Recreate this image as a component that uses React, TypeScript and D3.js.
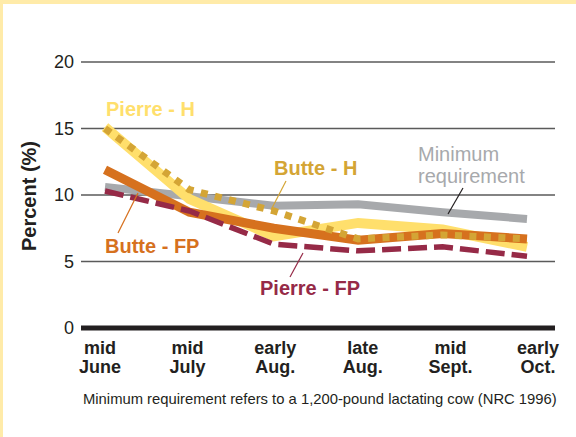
import React from 'react';
import * as d3 from 'd3';

// Crude protein by sampling date, Pierre / Butte hay (H) and forage plots (FP)
const periodTop = ['mid', 'mid', 'early', 'late', 'mid', 'early'];
const periodBottom = ['June', 'July', 'Aug.', 'Aug.', 'Sept.', 'Oct.'];
const yTicks = [0, 5, 10, 15, 20];

const minimumReq = [10.6, 9.9, 9.2, 9.3, 8.7, 8.2];
const pierreH = [15.1, 9.7, 6.9, 7.9, 7.4, 6.1];
const butteFP = [11.9, 8.7, 7.5, 6.6, 7.1, 6.7];
const butteH = [15.0, 10.4, 8.8, 6.7, 7.0, 6.7];
const pierreFP = [10.3, 8.8, 6.3, 5.8, 6.1, 5.4];

const W = 576;
const H = 437;
const FONT = '"Liberation Sans", Arial, Helvetica, sans-serif';

export default function App() {
  const x = d3.scalePoint<number>().domain(d3.range(periodTop.length)).range([105, 527]);
  const xLabel = d3.scalePoint<number>().domain(d3.range(periodTop.length)).range([100, 538]);
  const y = d3.scaleLinear().domain([0, 20]).range([328, 62]);

  const line = d3
    .line<number>()
    .x((_, i) => x(i) as number)
    .y((d) => y(d));

  const series = [
    { key: 'min', values: minimumReq, color: '#A7A9AC', width: 8, dash: null },
    { key: 'pierreH', values: pierreH, color: '#FFDF6C', width: 10, dash: null },
    { key: 'butteFP', values: butteFP, color: '#D6711E', width: 9, dash: null },
    { key: 'butteH', values: butteH, color: '#D4A535', width: 7, dash: '7,7.5' },
    { key: 'pierreFP', values: pierreFP, color: '#962A47', width: 5.5, dash: '19,7' },
  ];

  return (
    <svg
      width={W}
      height={H}
      style={{ position: 'absolute', left: 0, top: 0, fontFamily: FONT }}
    >
      <rect x={0} y={0} width={W} height={H} fill="#FFEBA9" />
      <rect x={3} y={4} width={W - 3} height={H - 4} fill="#fff" />

      {/* grid */}
      {yTicks.map((t) => (
        <g key={t}>
          <line
            x1={81}
            x2={555}
            y1={y(t)}
            y2={y(t)}
            stroke={t === 0 ? '#231F20' : '#5a5a5a'}
            strokeWidth={t === 0 ? 5 : 1.5}
          />
          <text x={74} y={y(t)} dy="0.36em" textAnchor="end" fontSize={18} fill="#231F20">
            {t}
          </text>
        </g>
      ))}

      <text
        transform={`translate(36,196) rotate(-90)`}
        textAnchor="middle"
        fontSize={20}
        fontWeight="bold"
        fill="#231F20"
      >
        Percent (%)
      </text>

      {/* x labels */}
      {periodTop.map((p, i) => (
        <text
          key={i}
          x={xLabel(i)}
          textAnchor="middle"
          fontSize={18}
          fontWeight="bold"
          fill="#231F20"
        >
          <tspan x={xLabel(i)} y={354}>{p}</tspan>
          <tspan x={xLabel(i)} y={373}>{periodBottom[i]}</tspan>
        </text>
      ))}

      {/* series */}
      {series.map((s) => (
        <path
          key={s.key}
          d={line(s.values) || ''}
          fill="none"
          stroke={s.color}
          strokeWidth={s.width}
          strokeDasharray={s.dash || undefined}
          strokeLinejoin="miter"
        />
      ))}

      {/* annotations */}
      <text x={106} y={116} fontSize={20} fontWeight="bold" fill="#FFDF6C">Pierre - H</text>

      <text x={274} y={175} fontSize={20} fontWeight="bold" fill="#D4A535">Butte - H</text>
      <line x1={286} y1={181} x2={271} y2={210} stroke="#D4A535" strokeWidth={1.2} />

      <text x={418} y={161} fontSize={20} fill="#A7A9AC">Minimum</text>
      <text x={418} y={183} fontSize={20} fill="#A7A9AC">requirement</text>
      <line x1={463} y1={188} x2={448} y2={214} stroke="#231F20" strokeWidth={1.2} />

      <text x={105} y={253} fontSize={20} fontWeight="bold" fill="#D6711E">Butte - FP</text>
      <line x1={138} y1={193} x2={118} y2={233} stroke="#D6711E" strokeWidth={1.2} />

      <text x={260} y={295} fontSize={20} fontWeight="bold" fill="#962A47">Pierre - FP</text>
      <line x1={303} y1={253} x2={290} y2={277} stroke="#962A47" strokeWidth={1.2} />

      <text x={83} y={404} fontSize={14.8} fill="#231F20">
        Minimum requirement refers to a 1,200-pound lactating cow (NRC 1996)
      </text>
    </svg>
  );
}
